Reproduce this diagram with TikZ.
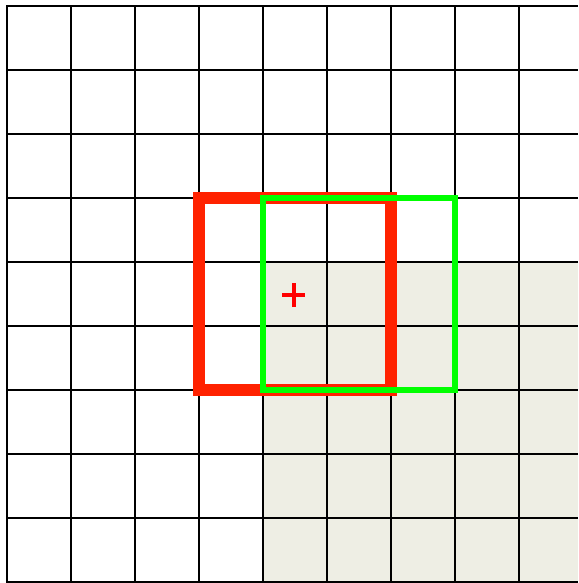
\documentclass[tikz,border=0pt]{standalone}
\definecolor{beigefill}{RGB}{238,238,228}
\definecolor{boxred}{RGB}{255,34,0}
\definecolor{boxgreen}{RGB}{0,255,0}
\definecolor{plusred}{RGB}{255,0,0}
\tikzset{
  gridline/.style={black,line width=2pt},
  redbox/.style={draw=boxred,line width=12pt,line join=miter},
  greenbox/.style={draw=boxgreen,line width=6pt,line join=miter},
  plusmark/.style={draw=plusred,line width=4pt}
}
\begin{document}
\begin{tikzpicture}[x=1pt,y=-1pt]
\useasboundingbox (0,0) rectangle (578,583);
\fill[white] (0,0) rectangle (578,583);
\fill[fill=beigefill] (263,262) rectangle (578,582);
\foreach \i in {0,...,8} {
  \draw[gridline] ({7+64*\i},6) -- ({7+64*\i},582);
}
\foreach \j in {0,...,9} {
  \draw[gridline] (6,{6+64*\j}) -- (578,{6+64*\j});
}
\draw[redbox] (199,198) rectangle (391,390);
\draw[greenbox] (263,198) rectangle (455,390);
\coordinate (p) at (293.5,295);
\draw[plusmark] ([xshift=-11.5pt]p) -- ([xshift=11.5pt]p);
\draw[plusmark] ([yshift=-12pt]p) -- ([yshift=12pt]p);
\end{tikzpicture}
\end{document}
